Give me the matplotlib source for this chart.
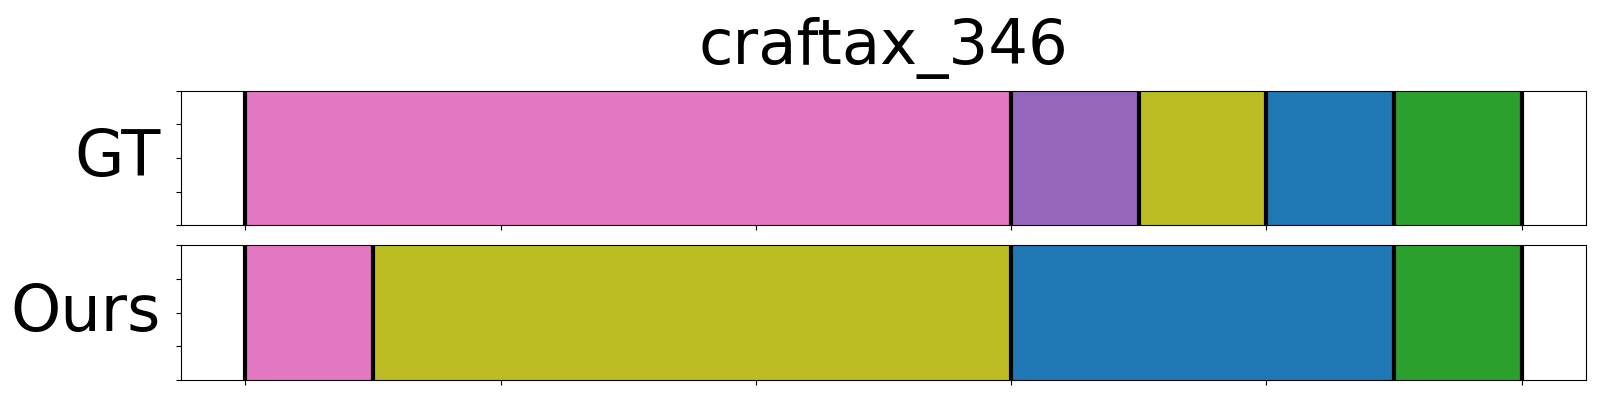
import matplotlib
matplotlib.use('Agg')
import matplotlib.pyplot as plt

# segment data: start step, end step, color
title = 'craftax_346'
row_names = ['GT', 'Ours']
gt_starts = [0, 30, 35, 40, 45]
gt_ends = [30, 35, 40, 45, 50]
gt_colors = ['#e377c2', '#9467bd', '#bcbd22', '#1f77b4', '#2ca02c']
ours_starts = [0, 5, 30, 45]
ours_ends = [5, 30, 45, 50]
ours_colors = ['#e377c2', '#bcbd22', '#1f77b4', '#2ca02c']

rows = [(gt_starts, gt_ends, gt_colors), (ours_starts, ours_ends, ours_colors)]

fig, axes = plt.subplots(2, 1, figsize=(16, 4), dpi=100, sharex=True)
fig.subplots_adjust(left=0.1134, right=0.991, top=0.773, bottom=0.05, hspace=0.149)

for ax, name, (starts, ends, colors) in zip(axes, row_names, rows):
    widths = [e - s for s, e in zip(starts, ends)]
    ax.bar(starts, [1] * len(starts), width=widths, align='edge', color=colors, linewidth=0)
    for b in sorted(set(starts + ends)):
        ax.axvline(b, color='black', linewidth=3)
    ax.set_ylim(0, 1)
    ax.set_yticks([0, 0.25, 0.5, 0.75, 1])
    ax.set_yticklabels([])
    ax.set_xticks(range(0, 51, 10))
    ax.tick_params(labelbottom=False)
    ax.set_ylabel(name, rotation=0, fontsize=46, ha='right', va='center', labelpad=8)

axes[0].set_xlim(-2.5, 52.5)
axes[0].set_title(title, fontsize=45, pad=19)

plt.savefig('out.png')
